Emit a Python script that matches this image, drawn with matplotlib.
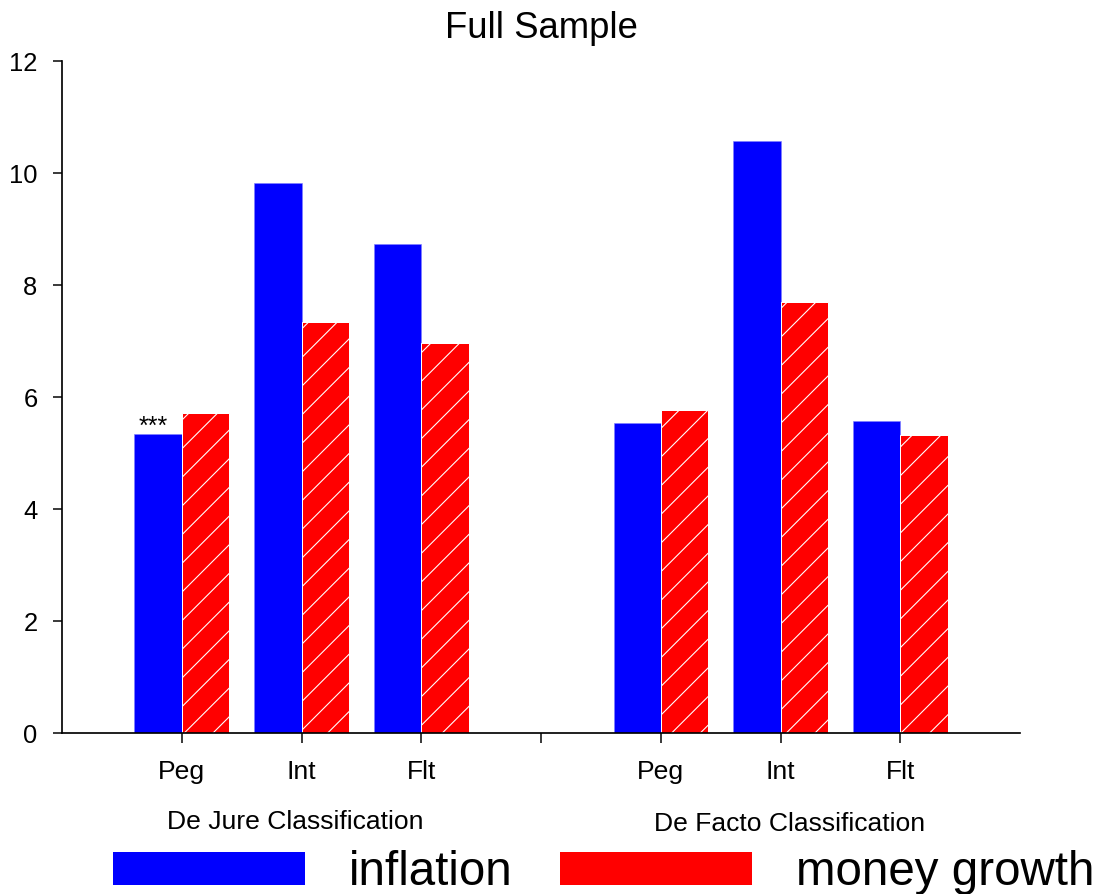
import matplotlib.pyplot as plt
from matplotlib.patches import Patch
import numpy as np

# figure is laid out in pixels; DPI picked so the '/' hatch spacing comes out right
DPI = 86
W, H = 1094, 894


def pt(p):
    # pixel size -> points at the figure dpi
    return p * 72.0 / DPI


regimes = ['Peg', 'Int', 'Flt']
group_names = ['De Jure Classification', 'De Facto Classification']
inflation = [5.34, 9.81, 8.73, 5.53, 10.57, 5.57]
money_growth = [5.71, 7.34, 6.96, 5.77, 7.70, 5.32]
signif = ['***', '', '', '', '', '']
series_names = ['inflation', 'money growth']

plt.rcParams['font.family'] = ['Liberation Sans', 'DejaVu Sans']
plt.rcParams['hatch.linewidth'] = pt(1.1)

pos = np.array([1, 2, 3, 5, 6, 7])
width = 0.395
blue, red = '#0000ff', '#ff0000'

fig = plt.figure(figsize=((W + 0.3) / DPI, (H + 0.3) / DPI), dpi=DPI)
ax = fig.add_axes([62 / W, 1 - 733 / H, 958 / W, 672 / H])

ax.bar(pos - width / 2, inflation, width, color=blue,
       edgecolor='#7f7fff', linewidth=pt(0.6))
ax.bar(pos + width / 2, money_growth, width, color=red,
       edgecolor='white', linewidth=pt(1.0), hatch='/')

for x, v, s in zip(pos - width / 2, inflation, signif):
    if s:
        ax.text(x - 0.04, v, s, ha='center', va='baseline', fontsize=pt(25))

ax.set_xlim(0, 8)
ax.set_ylim(0, 12)
ax.set_yticks(np.arange(0, 13, 2))
ax.set_xticks(np.arange(1, 8))
ax.set_xticklabels(regimes + [''] + regimes)

ax.tick_params(axis='both', direction='out', length=pt(9.5), width=pt(1.5))
ax.tick_params(axis='x', labelsize=pt(26.5), pad=pt(17.5))
ax.tick_params(axis='y', labelsize=pt(25.5), pad=pt(15))

for side in ['top', 'right']:
    ax.spines[side].set_visible(False)
for side in ['left', 'bottom']:
    ax.spines[side].set_linewidth(pt(1.7))

# group captions under the tick labels
group_x = [1.95, 6.07]
group_y = [(733 - 829) / 672, (733 - 831) / 672]
for gx, gy, name in zip(group_x, group_y, group_names):
    ax.text(gx, gy, name, transform=ax.get_xaxis_transform(),
            ha='center', va='baseline', fontsize=pt(26.5))

ax.set_title('Full Sample', fontsize=pt(36.5), pad=pt(23))

handles = [Patch(facecolor=blue), Patch(facecolor=red)]
fig.legend(handles, series_names, ncol=2, loc='lower left',
           bbox_to_anchor=(113 / W, -1 / H), frameon=False,
           fontsize=pt(47.5), handlelength=192 / 47.5, handleheight=32 / 47.5,
           handletextpad=0.92, columnspacing=1.0,
           borderpad=0, borderaxespad=0)

fig.savefig('out.png', dpi=DPI)
